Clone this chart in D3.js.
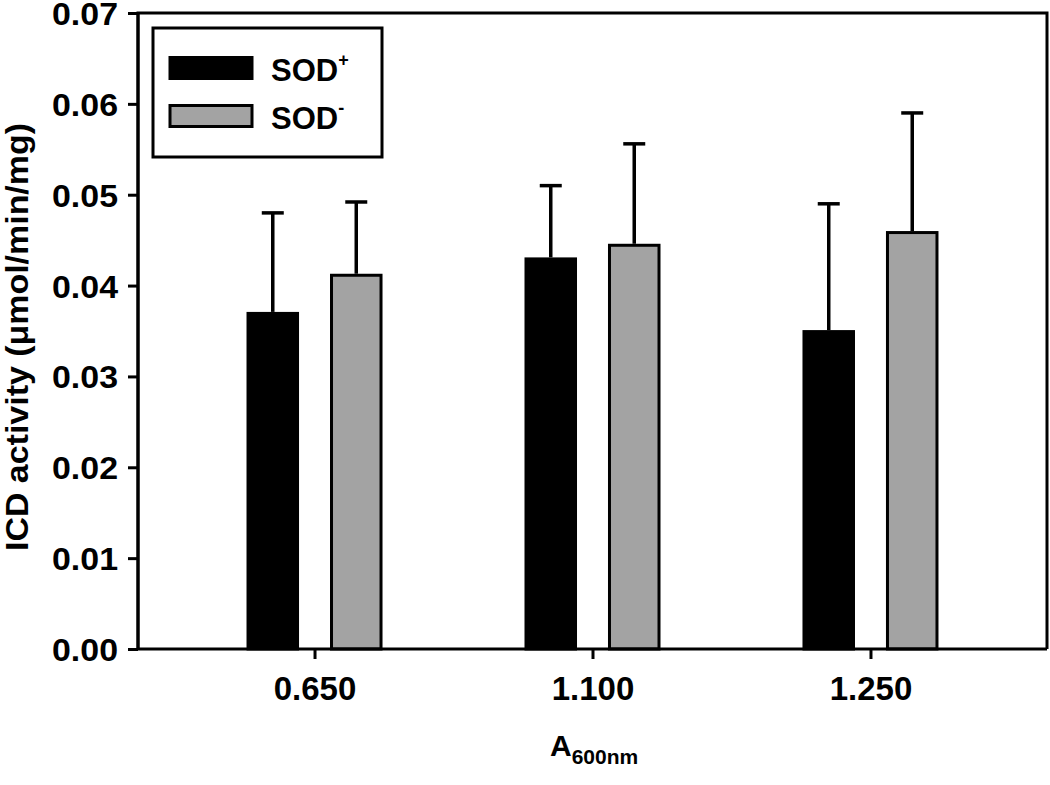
<!DOCTYPE html>
<html><head><meta charset="utf-8">
<script src="https://cdn.jsdelivr.net/npm/d3@7"></script>
<style>body{margin:0;background:#fff}svg{display:block}text{font-family:"Liberation Sans",Arial,sans-serif;font-weight:bold;fill:#000}</style>
</head><body><svg id="c" width="1050" height="785"></svg>
<script>
const categories = ["0.650", "1.100", "1.250"];
const seriesNames = ["SOD+", "SOD-"];
const sodPlus = [0.0371, 0.0431, 0.0351];
const sodPlusErr = [0.0109, 0.0079, 0.0139];
const sodMinus = [0.0413, 0.0446, 0.0460];
const sodMinusErr = [0.0079, 0.0110, 0.0130];
const yTicks = [0, 0.01, 0.02, 0.03, 0.04, 0.05, 0.06, 0.07];

const colors = {"SOD+": "#000000", "SOD-": "#a3a3a3"};
const L = 138, R = 1047, T = 13, B = 649;
const svg = d3.select("#c");
const x = d3.scalePoint().domain(categories).range([L, R]).padding(0.635);
const xs = d3.scaleBand().domain(seriesNames).range([-68, 68]).paddingInner(0.371);
const y = d3.scaleLinear().domain([0, 0.07]).range([B, T]);

const rows = [];
categories.forEach((c, i) => {
  rows.push({c, s: "SOD+", v: sodPlus[i], e: sodPlusErr[i]});
  rows.push({c, s: "SOD-", v: sodMinus[i], e: sodMinusErr[i]});
});
const sw = 3;
// error bars
const eb = svg.append("g").attr("stroke", "#000").attr("stroke-width", 3.5);
rows.forEach(d => {
  const cx = x(d.c) + xs(d.s) + xs.bandwidth() / 2;
  eb.append("line").attr("x1", cx).attr("x2", cx).attr("y1", y(d.v)).attr("y2", y(d.v + d.e));
  eb.append("line").attr("x1", cx - 11).attr("x2", cx + 11).attr("y1", y(d.v + d.e)).attr("y2", y(d.v + d.e));
});
// bars
svg.append("g").selectAll("rect").data(rows).join("rect")
  .attr("x", d => x(d.c) + xs(d.s) + sw / 2)
  .attr("width", xs.bandwidth() - sw)
  .attr("y", d => y(d.v) + sw / 2)
  .attr("height", d => y(0) - y(d.v) - sw / 2)
  .attr("fill", d => colors[d.s]).attr("stroke", "#000").attr("stroke-width", sw);

// frame
svg.append("path").attr("d", `M${L},${B}V${T}H${R}V${B}`).attr("fill", "none").attr("stroke", "#000").attr("stroke-width", 3);

// axes
const yAx = svg.append("g").attr("transform", `translate(${L},0)`)
  .call(d3.axisLeft(y).tickValues(yTicks).tickFormat(d3.format(".2f")).tickSize(10).tickPadding(10));
yAx.selectAll("text").style("font-size", "32px").attr("dy", "0.36em")
  .attr("textLength", 66).attr("lengthAdjust", "spacingAndGlyphs");
const xAx = svg.append("g").attr("transform", `translate(0,${B})`)
  .call(d3.axisBottom(x).tickSize(10).tickPadding(18));
xAx.selectAll("text").style("font-size", "33px").attr("dy", "0.71em");
svg.selectAll(".domain").attr("stroke", "#000").attr("stroke-width", 3);
svg.selectAll(".tick line").attr("stroke", "#000").attr("stroke-width", 3);
xAx.select(".domain").attr("d", `M${L},0H${R}`);
yAx.select(".domain").attr("d", `M0,${B}V${T}`);

// axis titles
svg.append("text").attr("transform", `translate(28,337) rotate(-90)`)
  .attr("text-anchor", "middle").style("font-size", "31px")
  .attr("textLength", 428).attr("lengthAdjust", "spacingAndGlyphs")
  .text("ICD activity (\u03bcmol/min/mg)");
const xt = svg.append("text").attr("x", 550).attr("y", 756).style("font-size", "30px");
xt.append("tspan").text("A");
xt.append("tspan").attr("dy", 8).style("font-size", "21px").text("600nm");

// legend
const lg = svg.append("g");
lg.append("rect").attr("x", 153).attr("y", 28).attr("width", 229).attr("height", 129)
  .attr("fill", "#fff").attr("stroke", "#000").attr("stroke-width", 3);
const legY = [68, 116];
seriesNames.forEach((s, i) => {
  lg.append("rect").attr("x", 170).attr("y", legY[i] - 10.5).attr("width", 82).attr("height", 21)
    .attr("fill", colors[s]).attr("stroke", "#000").attr("stroke-width", 3);
  const t = lg.append("text").attr("x", 271).attr("y", legY[i] + 13).style("font-size", "31px");
  t.append("tspan").text("SOD");
  t.append("tspan").attr("dy", -15).style("font-size", "18px").text(i === 0 ? "+" : "-");
});
</script></body></html>
